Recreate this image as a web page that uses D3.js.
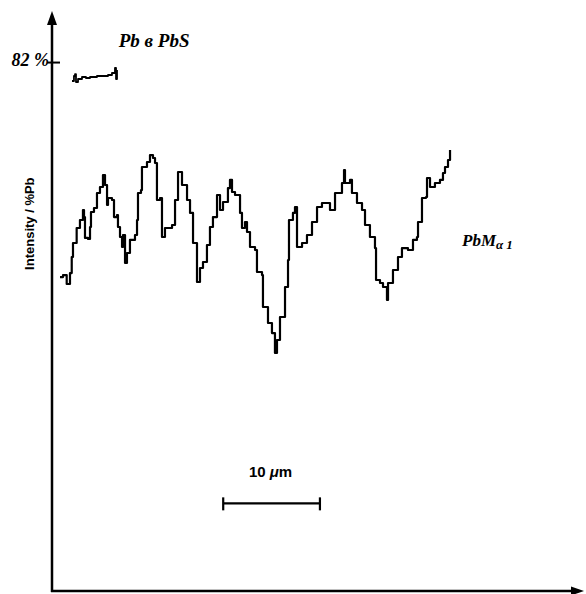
<!DOCTYPE html>
<html>
<head>
<meta charset="utf-8">
<script src="https://cdn.jsdelivr.net/npm/d3@7"></script>
<style>
  body { margin: 0; background: #fff; }
  svg { display: block; }
</style>
</head>
<body>
<div id="chart"></div>
<script>
// Profil Pb le long de la ligne de balayage (distance en µm, intensité en %Pb)
var profileDist = [0.83, 1.14, 1.52, 1.86, 2.04, 2.17, 2.55, 2.89, 3.20, 3.31, 3.41, 3.72, 3.93, 4.03, 4.34, 4.65, 4.96, 5.27, 5.48, 5.69,
  5.79, 6.20, 6.41, 6.72, 6.82, 7.03, 7.24, 7.34, 7.55, 7.75, 8.06, 8.58, 8.79, 8.89, 9.20, 9.30, 9.82, 10.13, 10.44, 10.65,
  10.85, 10.85, 11.17, 11.37, 11.68, 12.41, 12.72, 13.03, 13.44, 13.96, 14.27, 14.58, 14.99, 15.30, 15.61, 16.02, 16.33, 16.64, 17.06, 17.37,
  17.68, 18.19, 18.40, 18.61, 18.92, 19.44, 19.64, 19.95, 20.16, 20.47, 20.99, 21.19, 21.71, 21.81, 22.33, 22.74, 23.05, 23.26, 23.57, 23.57,
  24.09, 24.40, 24.50, 24.91, 25.12, 25.33, 25.85, 26.36, 26.88, 27.40, 27.91, 28.43, 28.74, 29.26, 29.98, 30.19, 30.29, 30.81, 31.01, 31.53,
  32.05, 32.36, 32.87, 33.39, 33.50, 33.91, 34.22, 34.63, 34.74, 35.25, 35.77, 36.18, 36.80, 37.32, 37.73, 37.84, 38.25, 38.25, 38.66, 38.77,
  39.08, 39.59, 40.11, 40.42, 40.63, 40.94, 41.15];
var profileValue = [48.72, 49.03, 47.64, 49.34, 51.83, 54.00, 56.33, 57.57, 59.12, 58.03, 54.78, 54.62, 56.48, 58.81, 59.43, 61.76, 62.69, 64.55, 63.00, 59.90,
  60.98, 60.67, 58.03, 58.34, 56.48, 54.93, 53.38, 55.24, 50.90, 52.45, 54.47, 55.24, 57.57, 61.76, 62.22, 65.79, 66.57, 67.65, 67.19, 66.41,
  65.79, 60.67, 60.98, 54.93, 56.33, 56.79, 60.67, 65.02, 63.00, 60.67, 58.66, 54.00, 47.95, 50.12, 51.05, 53.69, 56.48, 58.03, 61.45, 59.12,
  60.36, 62.53, 63.78, 61.91, 61.45, 58.66, 56.33, 57.26, 55.71, 53.38, 52.91, 49.50, 49.03, 44.07, 41.59, 40.03, 36.93, 38.95, 38.95, 42.52,
  47.17, 51.36, 57.57, 58.66, 59.59, 53.38, 54.00, 55.24, 57.26, 59.59, 60.21, 60.21, 59.12, 61.76, 63.31, 65.33, 63.31, 63.78, 61.76, 60.21,
  59.12, 56.79, 54.93, 53.22, 48.26, 47.79, 47.17, 45.16, 47.79, 49.81, 51.83, 53.22, 52.91, 54.47, 54.93, 57.26, 57.57, 60.98, 61.14, 64.09,
  62.69, 63.31, 63.78, 64.86, 65.79, 66.88, 68.43];

// Référence : Pb dans PbS
var refDist = [2.07, 2.27, 2.38, 2.48, 2.69, 3.10, 3.51, 3.93, 4.65, 5.27, 5.79, 6.20, 6.41, 6.51, 6.62, 6.72];
var refValue = [79.14, 79.91, 80.22, 78.98, 79.45, 79.76, 79.60, 79.76, 79.91, 79.91, 80.07, 80.38, 80.38, 81.16, 79.45, 80.84];

var refTick = 82;          // graduation "82 %"
var scaleBarLength = 10;   // barre d'échelle 10 µm
var scaleBarStart = 17.7;
var scaleBarLevel = 13.6;

var width = 586, height = 594;

var svg = d3.select("#chart").append("svg")
  .attr("width", width)
  .attr("height", height);

var x = d3.scaleLinear().domain([0, 55]).range([52, 584]);
var y = d3.scaleLinear().domain([0, 90]).range([591, 11]);

var serif = "'Liberation Serif', 'Times New Roman', serif";
var sans = "'Liberation Sans', Arial, sans-serif";

// axes avec flèches
svg.append("line")
  .attr("x1", x(0)).attr("y1", y(0) + 1)
  .attr("x2", x(0)).attr("y2", y(88.5))
  .attr("stroke", "#000").attr("stroke-width", 2.5);
svg.append("path")
  .attr("d", "M" + x(0) + "," + y(90) + " L" + (x(0) - 5) + "," + (y(90) + 14) + " L" + (x(0) + 5) + "," + (y(90) + 14) + " Z")
  .attr("fill", "#000");

svg.append("line")
  .attr("x1", x(0) - 1).attr("y1", y(0))
  .attr("x2", x(54)).attr("y2", y(0))
  .attr("stroke", "#000").attr("stroke-width", 2.5);
svg.append("path")
  .attr("d", "M" + x(55) + "," + y(0) + " L" + (x(55) - 13) + "," + (y(0) - 4.5) + " L" + (x(55) - 13) + "," + (y(0) + 4.5) + " Z")
  .attr("fill", "#000");

// graduation 82 %
svg.append("line")
  .attr("x1", x(0) - 5).attr("x2", x(0) + 8)
  .attr("y1", y(refTick)).attr("y2", y(refTick))
  .attr("stroke", "#000").attr("stroke-width", 2);
svg.append("text")
  .attr("x", x(0) - 3).attr("y", y(refTick) + 3)
  .attr("text-anchor", "end")
  .style("font-family", serif).style("font-weight", "bold").style("font-style", "italic")
  .style("font-size", "18px")
  .text("82 %");

// titre de l'axe
svg.append("text")
  .attr("transform", "translate(34," + y(57) + ") rotate(-90)")
  .attr("text-anchor", "middle")
  .style("font-family", sans).style("font-weight", "bold").style("font-size", "13px")
  .text("Intensity / %Pb");

var line = d3.line()
  .curve(d3.curveStepAfter)
  .x(function(d) { return x(d[0]); })
  .y(function(d) { return y(d[1]); });

var profile = d3.zip(profileDist, profileValue);
var ref = d3.zip(refDist, refValue);

svg.append("path")
  .datum(profile)
  .attr("d", line)
  .attr("fill", "none")
  .attr("stroke", "#000")
  .attr("stroke-width", 2.2)
  .attr("stroke-linejoin", "round");

svg.append("path")
  .datum(ref)
  .attr("d", line)
  .attr("fill", "none")
  .attr("stroke", "#000")
  .attr("stroke-width", 1.8)
  .attr("stroke-linejoin", "round");

// étiquettes
svg.append("text")
  .attr("x", x(6.9)).attr("y", 47)
  .style("font-family", serif).style("font-weight", "bold").style("font-style", "italic")
  .style("font-size", "19px")
  .text("Pb в PbS");

var lab = svg.append("text")
  .attr("x", 462).attr("y", 246)
  .style("font-family", serif).style("font-weight", "bold").style("font-style", "italic")
  .style("font-size", "17px");
lab.append("tspan").text("PbM");
lab.append("tspan").attr("dy", 3).style("font-size", "13px").text("α");
lab.append("tspan").attr("dx", 3).style("font-size", "13px").text("1");

// barre d'échelle
var sb = svg.append("g");
sb.append("line")
  .attr("x1", x(scaleBarStart)).attr("x2", x(scaleBarStart + scaleBarLength))
  .attr("y1", y(scaleBarLevel)).attr("y2", y(scaleBarLevel))
  .attr("stroke", "#000").attr("stroke-width", 2.2);
[scaleBarStart, scaleBarStart + scaleBarLength].forEach(function(v) {
  sb.append("line")
    .attr("x1", x(v)).attr("x2", x(v))
    .attr("y1", y(scaleBarLevel) - 6).attr("y2", y(scaleBarLevel) + 7)
    .attr("stroke", "#000").attr("stroke-width", 2.2);
});
var sbt = sb.append("text")
  .attr("x", x(scaleBarStart + scaleBarLength / 2) - 1).attr("y", y(scaleBarLevel) - 26)
  .attr("text-anchor", "middle")
  .style("font-family", sans).style("font-weight", "bold").style("font-size", "15px");
sbt.append("tspan").text("10 ");
sbt.append("tspan").style("font-style", "italic").text("μ");
sbt.append("tspan").text("m");
</script>
</body>
</html>
